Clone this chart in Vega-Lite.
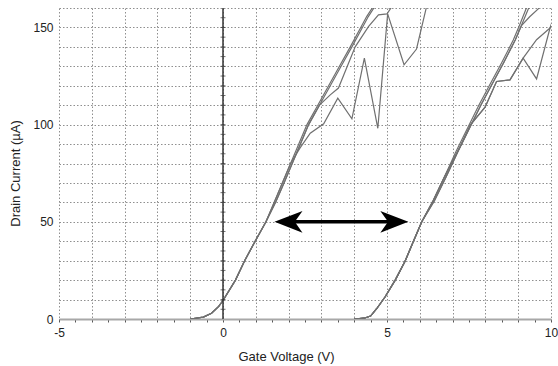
{
  "$schema": "https://vega.github.io/schema/vega-lite/v6.json",
  "width": 492,
  "height": 311,
  "autosize": {"type": "none"},
  "padding": {"left": 59, "top": 8, "right": 7, "bottom": 47},
  "background": "white",
  "config": {"view": {"stroke": null}, "font": "Liberation Sans"},
  "resolve": {"axis": {"x": "independent", "y": "independent"}},
  "datasets": {
    "curves": [
      {"s":"LA","v":-1.0,"I":0},{"s":"LA","v":-0.6,"I":1},{"s":"LA","v":-0.35,"I":3},{"s":"LA","v":-0.13,"I":6.5},{"s":"LA","v":0,"I":9.5},{"s":"LA","v":0.38,"I":20},{"s":"LA","v":0.66,"I":30},{"s":"LA","v":0.98,"I":40},{"s":"LA","v":1.31,"I":50},{"s":"LA","v":1.56,"I":60},{"s":"LA","v":1.81,"I":70},{"s":"LA","v":2.06,"I":80},{"s":"LA","v":2.31,"I":90},{"s":"LA","v":2.56,"I":100},{"s":"LA","v":2.89,"I":110},{"s":"LA","v":3.22,"I":120},{"s":"LA","v":3.55,"I":130},{"s":"LA","v":3.88,"I":140},{"s":"LA","v":4.2,"I":150},{"s":"LA","v":4.38,"I":155.6},{"s":"LA","v":4.55,"I":160},{"s":"LA","v":4.65,"I":163},
      {"s":"LB","v":-1.0,"I":0},{"s":"LB","v":-0.6,"I":1},{"s":"LB","v":-0.35,"I":3},{"s":"LB","v":-0.13,"I":6.5},{"s":"LB","v":0,"I":9.5},{"s":"LB","v":0.38,"I":20},{"s":"LB","v":0.66,"I":30},{"s":"LB","v":0.98,"I":40},{"s":"LB","v":1.31,"I":50},{"s":"LB","v":1.6,"I":60},{"s":"LB","v":1.86,"I":70},{"s":"LB","v":2.11,"I":80},{"s":"LB","v":2.36,"I":90},{"s":"LB","v":2.61,"I":100},{"s":"LB","v":2.94,"I":110},{"s":"LB","v":3.27,"I":120},{"s":"LB","v":3.6,"I":130},{"s":"LB","v":3.93,"I":140},{"s":"LB","v":4.25,"I":150},{"s":"LB","v":4.43,"I":155.6},{"s":"LB","v":4.6,"I":160},{"s":"LB","v":4.7,"I":163},
      {"s":"LC","v":-1.0,"I":0},{"s":"LC","v":-0.6,"I":1},{"s":"LC","v":-0.35,"I":3},{"s":"LC","v":-0.13,"I":6.5},{"s":"LC","v":0,"I":9.5},{"s":"LC","v":0.38,"I":20},{"s":"LC","v":0.66,"I":30},{"s":"LC","v":0.98,"I":40},{"s":"LC","v":1.31,"I":50},{"s":"LC","v":1.6,"I":60},{"s":"LC","v":1.86,"I":70},{"s":"LC","v":2.11,"I":80},{"s":"LC","v":2.36,"I":90},{"s":"LC","v":2.61,"I":100},{"s":"LC","v":2.94,"I":110},{"s":"LC","v":3.27,"I":115.3},{"s":"LC","v":3.52,"I":118.8},{"s":"LC","v":4.03,"I":140},{"s":"LC","v":4.44,"I":150.5},{"s":"LC","v":4.74,"I":156.5},{"s":"LC","v":5.0,"I":157},{"s":"LC","v":5.2,"I":162},{"s":"LC","v":5.25,"I":164},
      {"s":"LD","v":-1.0,"I":0},{"s":"LD","v":-0.6,"I":1},{"s":"LD","v":-0.35,"I":3},{"s":"LD","v":-0.13,"I":6.5},{"s":"LD","v":0,"I":9.5},{"s":"LD","v":0.38,"I":20},{"s":"LD","v":0.66,"I":30},{"s":"LD","v":0.98,"I":40},{"s":"LD","v":1.31,"I":50},{"s":"LD","v":1.56,"I":60},{"s":"LD","v":1.81,"I":70},{"s":"LD","v":2.06,"I":80},{"s":"LD","v":2.35,"I":88},{"s":"LD","v":2.66,"I":95.6},{"s":"LD","v":3.07,"I":100.4},{"s":"LD","v":3.5,"I":113.6},{"s":"LD","v":3.93,"I":103},{"s":"LD","v":4.31,"I":134.2},{"s":"LD","v":4.72,"I":98.1},{"s":"LD","v":5.02,"I":157},{"s":"LD","v":5.52,"I":130.8},{"s":"LD","v":5.9,"I":138.9},{"s":"LD","v":6.21,"I":161},{"s":"LD","v":6.24,"I":165},
      {"s":"RA","v":4.0,"I":0},{"s":"RA","v":4.3,"I":0.4},{"s":"RA","v":4.5,"I":1.5},{"s":"RA","v":4.69,"I":5.4},{"s":"RA","v":4.94,"I":11.3},{"s":"RA","v":5.25,"I":20},{"s":"RA","v":5.55,"I":29.7},{"s":"RA","v":5.8,"I":39.7},{"s":"RA","v":6.06,"I":50},{"s":"RA","v":6.41,"I":61},{"s":"RA","v":6.75,"I":73},{"s":"RA","v":7.1,"I":86},{"s":"RA","v":7.45,"I":98},{"s":"RA","v":7.8,"I":110},{"s":"RA","v":8.15,"I":121},{"s":"RA","v":8.5,"I":132},{"s":"RA","v":8.85,"I":143.5},{"s":"RA","v":9.05,"I":151.5},{"s":"RA","v":9.25,"I":160},{"s":"RA","v":9.32,"I":163},
      {"s":"RB","v":4.0,"I":0},{"s":"RB","v":4.3,"I":0.4},{"s":"RB","v":4.5,"I":1.5},{"s":"RB","v":4.69,"I":5.4},{"s":"RB","v":4.94,"I":11.3},{"s":"RB","v":5.25,"I":20},{"s":"RB","v":5.55,"I":29.7},{"s":"RB","v":5.8,"I":39.7},{"s":"RB","v":6.06,"I":50},{"s":"RB","v":6.45,"I":61},{"s":"RB","v":6.8,"I":73},{"s":"RB","v":7.16,"I":86},{"s":"RB","v":7.51,"I":98},{"s":"RB","v":7.86,"I":110},{"s":"RB","v":8.21,"I":121},{"s":"RB","v":8.56,"I":132},{"s":"RB","v":8.91,"I":143.5},{"s":"RB","v":9.11,"I":151.5},{"s":"RB","v":9.32,"I":160},{"s":"RB","v":9.4,"I":163},
      {"s":"RC","v":4.0,"I":0},{"s":"RC","v":4.3,"I":0.4},{"s":"RC","v":4.5,"I":1.5},{"s":"RC","v":4.69,"I":5.4},{"s":"RC","v":4.94,"I":11.3},{"s":"RC","v":5.25,"I":20},{"s":"RC","v":5.55,"I":29.7},{"s":"RC","v":5.8,"I":39.7},{"s":"RC","v":6.06,"I":50},{"s":"RC","v":6.45,"I":61},{"s":"RC","v":6.8,"I":73},{"s":"RC","v":7.16,"I":86},{"s":"RC","v":7.51,"I":98},{"s":"RC","v":7.86,"I":110},{"s":"RC","v":8.21,"I":121},{"s":"RC","v":8.56,"I":132},{"s":"RC","v":8.91,"I":143.5},{"s":"RC","v":9.1,"I":151},{"s":"RC","v":9.35,"I":155.5},{"s":"RC","v":9.61,"I":159.5},{"s":"RC","v":9.7,"I":163},
      {"s":"RE","v":4.0,"I":0},{"s":"RE","v":4.3,"I":0.4},{"s":"RE","v":4.5,"I":1.5},{"s":"RE","v":4.69,"I":5.4},{"s":"RE","v":4.94,"I":11.3},{"s":"RE","v":5.25,"I":20},{"s":"RE","v":5.55,"I":29.7},{"s":"RE","v":5.8,"I":39.7},{"s":"RE","v":6.06,"I":50},{"s":"RE","v":6.41,"I":61},{"s":"RE","v":6.75,"I":73},{"s":"RE","v":7.23,"I":88.7},{"s":"RE","v":7.55,"I":100},{"s":"RE","v":7.99,"I":109},{"s":"RE","v":8.34,"I":122.2},{"s":"RE","v":8.75,"I":123},{"s":"RE","v":9.15,"I":134.2},{"s":"RE","v":9.56,"I":143.7},{"s":"RE","v":9.97,"I":149.7},{"s":"RE","v":10.1,"I":151},
      {"s":"RF","v":4.0,"I":0},{"s":"RF","v":4.3,"I":0.4},{"s":"RF","v":4.5,"I":1.5},{"s":"RF","v":4.69,"I":5.4},{"s":"RF","v":4.94,"I":11.3},{"s":"RF","v":5.25,"I":20},{"s":"RF","v":5.55,"I":29.7},{"s":"RF","v":5.8,"I":39.7},{"s":"RF","v":6.06,"I":50},{"s":"RF","v":6.41,"I":61},{"s":"RF","v":6.75,"I":73},{"s":"RF","v":7.23,"I":88.7},{"s":"RF","v":7.55,"I":100},{"s":"RF","v":7.99,"I":109},{"s":"RF","v":8.34,"I":122.2},{"s":"RF","v":8.75,"I":123},{"s":"RF","v":9.15,"I":134.2},{"s":"RF","v":9.56,"I":123.5},{"s":"RF","v":9.97,"I":149.7},{"s":"RF","v":10.1,"I":156}
    ],
    "zero": [{"v": 0}],
    "zeroTicks": [
      {"I":5},{"I":10},{"I":15},{"I":20},{"I":25},{"I":30},{"I":35},{"I":40},{"I":45},{"I":50},{"I":55},{"I":60},{"I":65},{"I":70},{"I":75},{"I":80},{"I":85},{"I":90},{"I":95},{"I":100},{"I":105},{"I":110},{"I":115},{"I":120},{"I":125},{"I":130},{"I":135},{"I":140},{"I":145},{"I":150},{"I":155}
    ],
    "arrow": [{"x1": 1.85, "x2": 5.37, "I": 50}],
    "heads": [{"tip": 1.57, "I": 50, "dir": "left"}, {"tip": 5.65, "I": 50, "dir": "right"}]
  },
  "layer": [
    {
      "data": {"name": "curves"},
      "mark": {"type": "line", "stroke": "#707070", "strokeWidth": 1.2, "clip": true},
      "encoding": {
        "x": {
          "field": "v", "type": "quantitative",
          "scale": {"domain": [-5, 10], "nice": false, "zero": false},
          "axis": {
            "orient": "bottom",
            "values": [-5,-4.5,-4,-3.5,-3,-2.5,-2,-1.5,-1,-0.5,0,0.5,1,1.5,2,2.5,3,3.5,4,4.5,5,5.5,6,6.5,7,7.5,8,8.5,9,9.5,10],
            "labelExpr": "datum.value % 5 === 0 ? '' + datum.value : ''",
            "labelFlush": false, "labelOverlap": false,
            "grid": true, "gridDash": [1.5, 2], "gridColor": "#8f8f8f", "gridWidth": 1,
            "gridOpacity": {"condition": {"test": "datum.value % 1 !== 0", "value": 0}, "value": 1},
            "domainColor": "#a8a8a8", "domainWidth": 2,
            "tickColor": "#555", "tickSize": 3, "tickWidth": 1,
            "labelFontSize": 12, "labelColor": "#222", "labelPadding": 5,
            "title": "Gate Voltage (V)", "titleFontSize": 13, "titleFontWeight": "normal", "titleColor": "#222",
            "titleX": 227, "titlePadding": 12
          }
        },
        "y": {
          "field": "I", "type": "quantitative",
          "scale": {"domain": [0, 160], "nice": false},
          "axis": {
            "orient": "left",
            "values": [0,10,20,30,40,50,60,70,80,90,100,110,120,130,140,150,160],
            "labelExpr": "datum.value % 50 === 0 ? '' + datum.value : ''",
            "labelOverlap": false,
            "grid": true, "gridDash": [1.5, 2], "gridColor": "#8f8f8f", "gridWidth": 1,
            "domain": false, "ticks": false,
            "labelFontSize": 12, "labelColor": "#222", "labelPadding": 6,
            "title": "Drain Current (µA)", "titleFontSize": 13, "titleFontWeight": "normal", "titleColor": "#222",
            "titleY": 165, "titlePadding": 10
          }
        },
        "detail": {"field": "s", "type": "nominal"}
      }
    },
    {
      "data": {"name": "zero"},
      "mark": {"type": "rule", "color": "#333", "strokeWidth": 1.5},
      "encoding": {"x": {"field": "v", "type": "quantitative", "axis": null}}
    },
    {
      "data": {"name": "zeroTicks"},
      "mark": {"type": "tick", "orient": "horizontal", "color": "#333", "size": 5, "thickness": 1},
      "encoding": {
        "x": {"datum": 0, "type": "quantitative", "axis": null},
        "y": {"field": "I", "type": "quantitative", "axis": null}
      }
    },
    {
      "data": {"name": "arrow"},
      "mark": {"type": "rule", "color": "#000", "strokeWidth": 3.5},
      "encoding": {
        "x": {"field": "x1", "type": "quantitative", "axis": null},
        "x2": {"field": "x2"},
        "y": {"field": "I", "type": "quantitative", "axis": null}
      }
    },
    {
      "data": {"name": "heads"},
      "mark": {"type": "point", "filled": true, "fill": "#000", "stroke": null, "opacity": 1, "size": 784},
      "encoding": {
        "x": {"field": "tip", "type": "quantitative", "axis": null},
        "y": {"field": "I", "type": "quantitative", "axis": null},
        "shape": {
          "field": "dir", "type": "nominal", "legend": null,
          "scale": {"domain": ["left", "right"], "range": ["M0,0L2,-0.78L1.45,0L2,0.78Z", "M0,0L-2,-0.78L-1.45,0L-2,0.78Z"]}
        }
      }
    }
  ]
}
